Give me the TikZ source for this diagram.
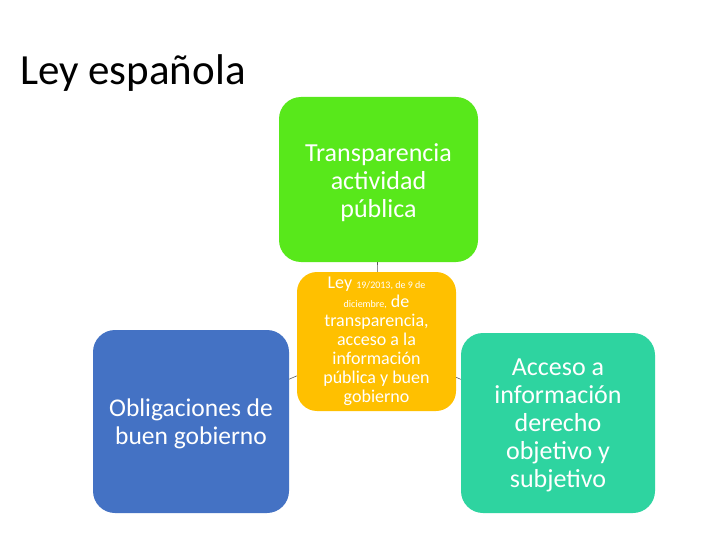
\documentclass[tikz,border=0pt]{standalone}
\usepackage{fontspec}
\setmainfont{Carlito}
\definecolor{cgreen}{RGB}{88,232,27}
\definecolor{corange}{RGB}{255,192,0}
\definecolor{cblue}{RGB}{68,114,196}
\definecolor{cteal}{RGB}{46,212,160}
\definecolor{cline}{RGB}{90,90,90}
\begin{document}
\begin{tikzpicture}[x=1pt,y=-1pt,
  box/.style={rectangle, rounded corners=22pt, inner sep=0pt, align=center, text=white},
  link/.style={draw=cline, line width=0.6pt}]
\useasboundingbox (0,0) rectangle (720,540);
\fill[white] (0,0) rectangle (720,540);
\node[anchor=base west, inner sep=0pt, font=\fontsize{43}{50}\selectfont] (title) at (20,85) {Ley española};
\node[box, fill=cgreen, minimum width=199pt, minimum height=165pt, font=\fontsize{26}{28}\selectfont] (green) at (378.5,179.5) {\raisebox{-3pt}[\height][\depth]{\parbox{199pt}{\centering Transparencia\\actividad\\pública}}};
\node[box, fill=cblue, minimum width=196pt, minimum height=183pt, font=\fontsize{25.5}{28}\selectfont] (blue) at (191,421.5) {\raisebox{-2pt}[\height][\depth]{\parbox{196pt}{\centering Obligaciones de\\buen gobierno}}};
\node[box, fill=cteal, minimum width=194pt, minimum height=180pt, font=\fontsize{26}{28}\selectfont] (teal) at (558,423) {\raisebox{-2pt}[\height][\depth]{\parbox{194pt}{\centering Acceso a\\información\\derecho\\objetivo y\\subjetivo}}};
\node[box, rounded corners=20pt, fill=corange, minimum width=159pt, minimum height=139pt, font=\fontsize{18}{19}\selectfont] (orange) at (376.5,341.5) {Ley {\fontsize{10}{10}\selectfont 19/2013, de 9 de}\\{\fontsize{10}{10}\selectfont diciembre,} de\\transparencia,\\acceso a la\\información\\pública y buen\\gobierno};
\draw[link] (green) -- (orange);
\draw[link] (orange) -- (blue);
\draw[link] (orange) -- (teal);
\end{tikzpicture}
\end{document}
